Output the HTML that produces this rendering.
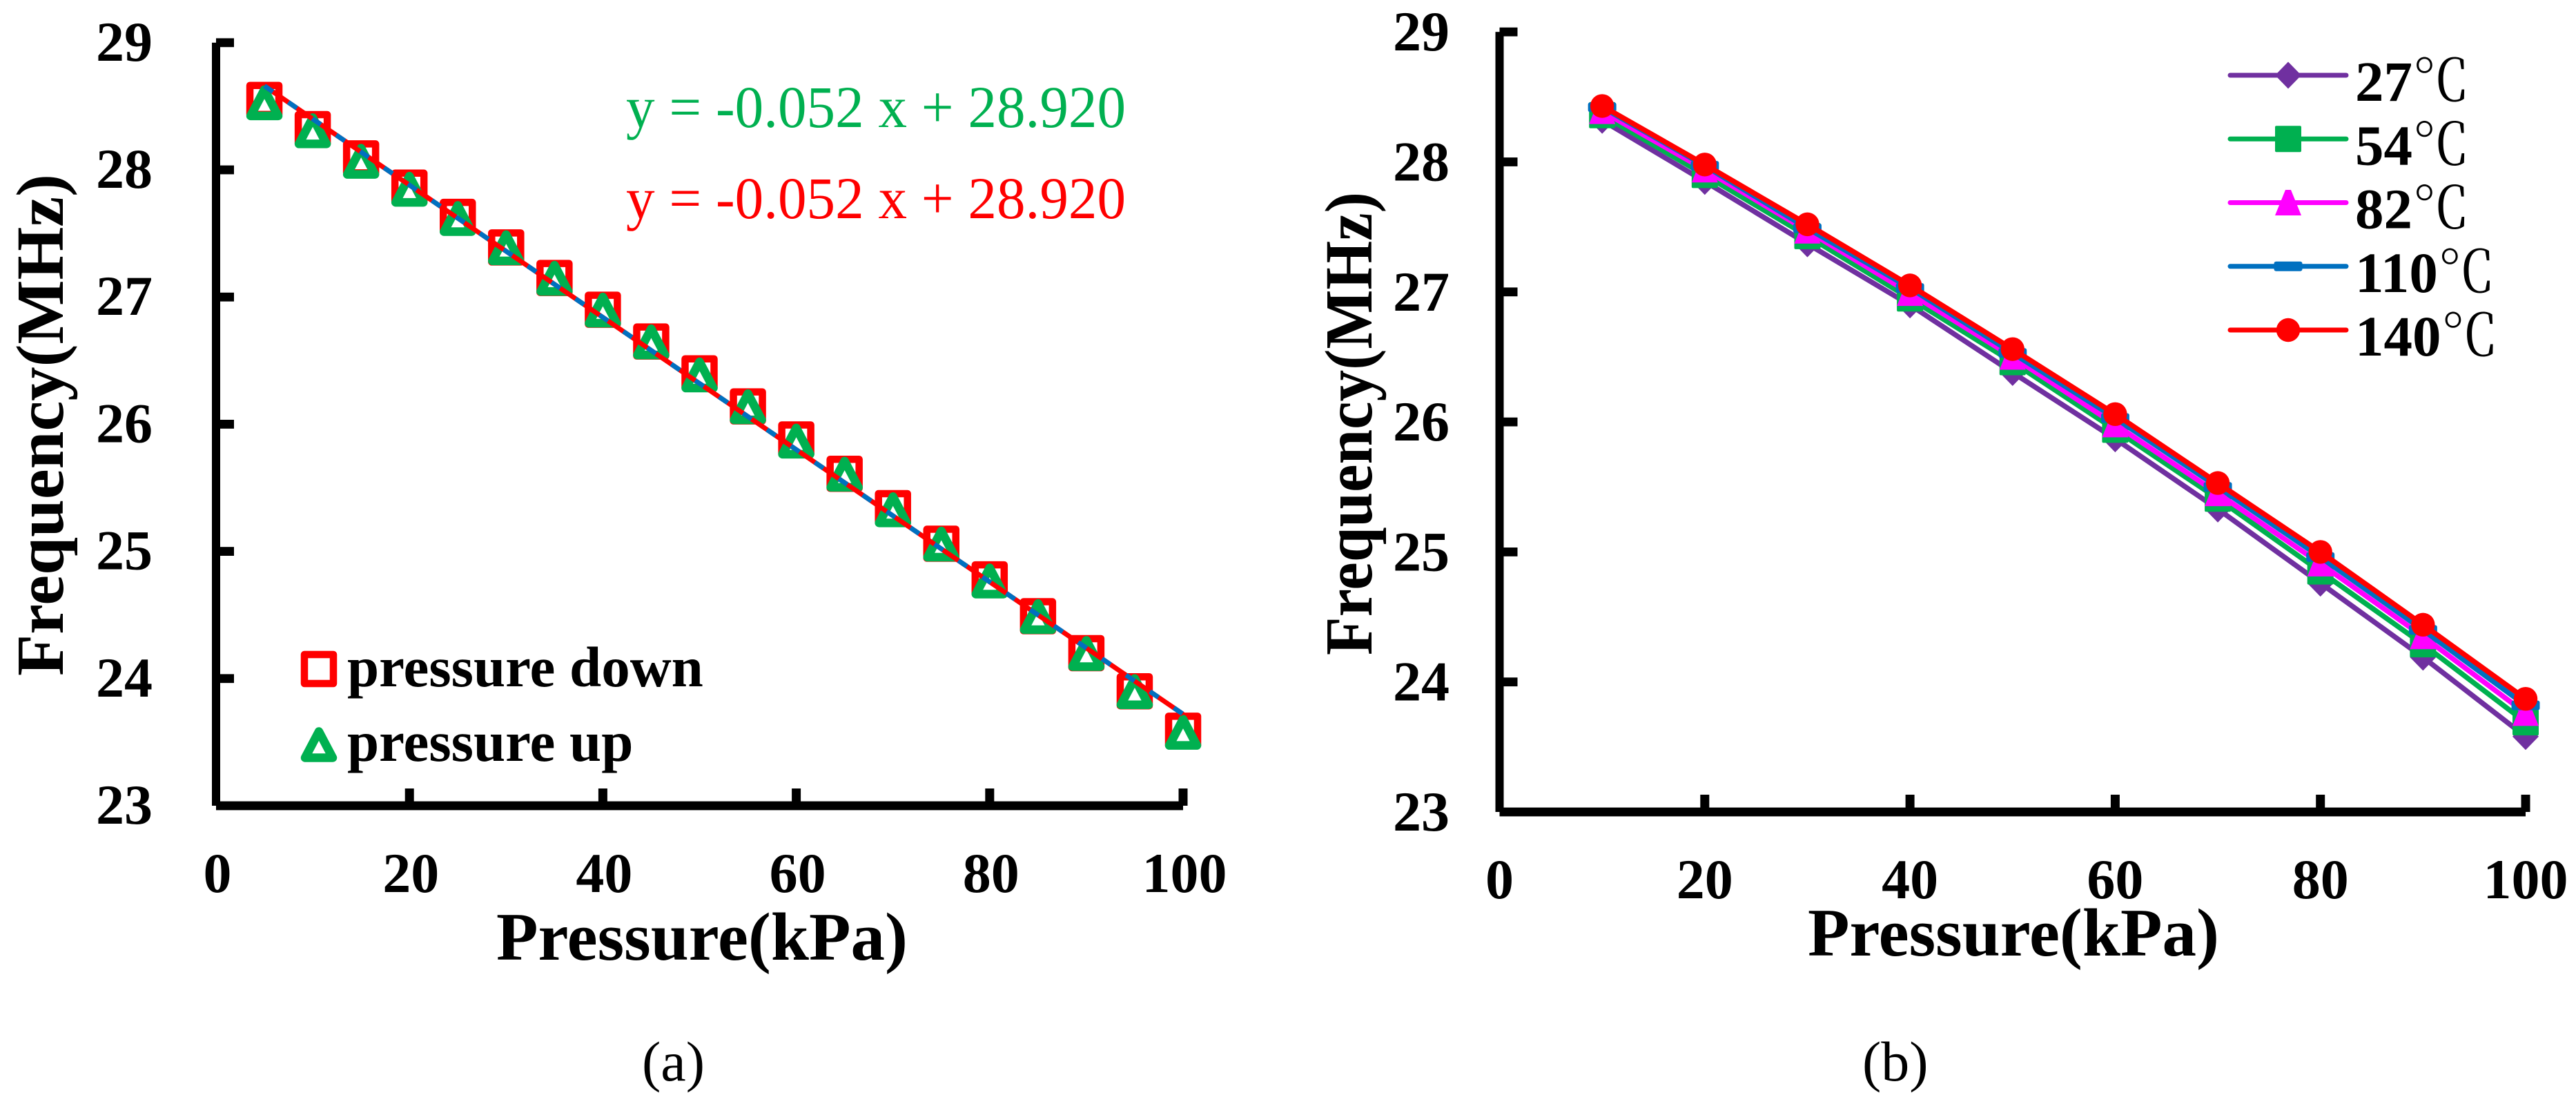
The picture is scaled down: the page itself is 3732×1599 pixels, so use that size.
<!DOCTYPE html>
<html lang="en">
<head>
<meta charset="utf-8">
<title>Frequency vs pressure</title>
<style>
html,body{margin:0;padding:0;background:#fff;}
svg{display:block;}
text{font-family:"Liberation Serif","Noto Serif CJK SC",serif;}
.bold{font-weight:bold;}
.deg{font-family:"Noto Serif CJK SC","Liberation Serif",serif;font-weight:400;}
</style>
</head>
<body>
<svg id="figure" xmlns="http://www.w3.org/2000/svg" width="3732" height="1599" viewBox="0 0 3732 1599">
  <rect width="3732" height="1599" fill="#fff"/>
  <g id="panel-a"></g>
  <g id="panel-b"></g>

  <text class="bold" font-size="98" text-anchor="middle" transform="translate(91,615.5) rotate(-90)" textLength="727" lengthAdjust="spacingAndGlyphs">Frequency(MHz)</text>
  <text class="bold" font-size="99" x="719" y="1390" textLength="596" lengthAdjust="spacingAndGlyphs">Pressure(kPa)</text>
  <text font-size="86" x="907" y="184" fill="#00B050" textLength="724" lengthAdjust="spacingAndGlyphs">y = -0.052 x + 28.920</text>
  <text font-size="86" x="907" y="316" fill="#FF0000" textLength="724" lengthAdjust="spacingAndGlyphs">y = -0.052 x + 28.920</text>
  <text class="bold" font-size="83" x="503" y="994">pressure down</text>
  <text class="bold" font-size="83" x="503" y="1102">pressure up</text>
  <text font-size="82" x="930" y="1565">(a)</text>

  <text class="bold" font-size="98" text-anchor="middle" transform="translate(1987,613.5) rotate(-90)" textLength="671" lengthAdjust="spacingAndGlyphs">Frequency(MHz)</text>
  <text class="bold" font-size="99" x="2619" y="1384" textLength="596" lengthAdjust="spacingAndGlyphs">Pressure(kPa)</text>
  <text font-size="82" x="2698" y="1565">(b)</text>
</svg>
<script>
// Shared tick labels
const yTickValues = [23, 24, 25, 26, 27, 28, 29];
const xTickValues = [0, 20, 40, 60, 80, 100];

// Panel (a) data
const panelAPressure = [5, 10, 15, 20, 25, 30, 35, 40, 45, 50, 55, 60, 65, 70, 75, 80, 85, 90, 95, 100];
const pressureDown = [28.55, 28.32, 28.09, 27.86, 27.63, 27.39, 27.15, 26.90, 26.65, 26.40, 26.14, 25.88, 25.61, 25.34, 25.06, 24.78, 24.49, 24.20, 23.90, 23.59];
const pressureUp = [28.53, 28.31, 28.07, 27.85, 27.62, 27.39, 27.15, 26.90, 26.65, 26.39, 26.14, 25.87, 25.61, 25.33, 25.06, 24.77, 24.49, 24.20, 23.90, 23.58];
const fitPressure = [5, 100];
const fitFrequency = [28.66, 23.72];

// Panel (b) data
const panelBPressure = [10, 20, 30, 40, 50, 60, 70, 80, 90, 100];
const temp27 = [28.32, 27.85, 27.37, 26.90, 26.38, 25.87, 25.33, 24.76, 24.19, 23.58];
const temp54 = [28.36, 27.90, 27.43, 26.95, 26.46, 25.94, 25.41, 24.85, 24.29, 23.69];
const temp82 = [28.39, 27.94, 27.47, 26.99, 26.50, 25.98, 25.45, 24.91, 24.35, 23.76];
const temp110 = [28.42, 27.97, 27.49, 27.03, 26.53, 26.03, 25.50, 24.96, 24.40, 23.82];
const temp140 = [28.43, 27.98, 27.52, 27.05, 26.56, 26.06, 25.53, 25.00, 24.44, 23.87];
const tempLabels = ['27', '54', '82', '110', '140'];

const SVGNS = 'http://www.w3.org/2000/svg';
function make(tag, parent, attrs) {
  const el = document.createElementNS(SVGNS, tag);
  for (const k in attrs) el.setAttribute(k, attrs[k]);
  parent.appendChild(el);
  return el;
}

const xA = v => 313 + v * 14.01;
const yA = v => 1167 - (v - 23) * 184.2;
const xB = v => 2172.5 + v * 14.865;
const yB = v => 1176 - (v - 23) * 188.3;

function drawAxes(root, xf, yf, prefix, yLabelX, yLabelDy, xLabelDx, xLabelY) {
  const t = 6.4;
  const x0 = xf(0), y0 = yf(23);
  const yAxis = make('rect', root, {x: x0 - 6, y: yf(29), width: 12, height: y0 - yf(29), fill: '#000'});
  
  
  const xAxis = make('rect', root, {x: x0, y: y0 - t, width: xf(100) - x0, height: 2 * t, fill: '#000'});
  
  
  yTickValues.forEach(v => {
    if (v !== 23) {
      const tick = make('rect', root, {x: x0, y: yf(v) - t, width: 26, height: 2 * t, fill: '#000'});
      
      
    }
    const label = make('text', root, {x: yLabelX, y: yf(v) + yLabelDy, 'text-anchor': 'end', 'font-size': 82, class: 'bold'});
    
    
    label.textContent = v;
  });
  xTickValues.forEach(v => {
    if (v !== 0) {
      const tick = make('rect', root, {x: xf(v) - 6.5, y: y0 - 25, width: 13, height: 25, fill: '#000'});
      
      
    }
    const label = make('text', root, {x: xf(v) + xLabelDx, y: xLabelY, 'text-anchor': 'middle', 'font-size': 82, class: 'bold'});
    
    
    label.textContent = v;
  });
}

function squareOutline(parent, cx, cy) {
  return make('rect', parent, {x: cx - 21, y: cy - 21, width: 42, height: 42, fill: 'none', stroke: '#FF0000', 'stroke-width': 10.5, 'stroke-linejoin': 'round'});
}
function triangleOutline(parent, cx, cy) {
  const pts = [[cx, cy - 18.5], [cx + 20, cy + 19.5], [cx - 20, cy + 19.5]].map(p => p.join(',')).join(' ');
  return make('polygon', parent, {points: pts, fill: 'none', stroke: '#00B050', 'stroke-width': 12.5, 'stroke-linejoin': 'round'});
}

// Panel (a)
const panelA = document.getElementById('panel-a');
drawAxes(panelA, xA, yA, 'panel-a', 221, 26, 2, 1292);
panelAPressure.forEach((p, i) => {
  const m = squareOutline(panelA, xA(p), yA(pressureDown[i]));
  
  
});
panelAPressure.forEach((p, i) => {
  const m = triangleOutline(panelA, xA(p), yA(pressureUp[i]));
  
  
});
const fitPoints = fitPressure.map((p, i) => xA(p) + ',' + yA(fitFrequency[i])).join(' ');
const fitRed = make('polyline', panelA, {points: fitPoints, fill: 'none', stroke: '#FF0000', 'stroke-width': 7});


const fitBlue = make('polyline', panelA, {points: fitPoints, fill: 'none', stroke: '#0070C0', 'stroke-width': 7, 'stroke-dasharray': '15 27'});


const legendSquare = squareOutline(panelA, 462, 969);


const legendTriangle = triangleOutline(panelA, 462, 1078);



// Panel (b)
const panelB = document.getElementById('panel-b');
drawAxes(panelB, xB, yB, 'panel-b', 2100, 27, 0, 1301);

function markerShape(parent, kind, cx, cy, color) {
  if (kind === 'diamond') {
    return make('polygon', parent, {points: [[cx, cy - 19.5], [cx + 19, cy], [cx, cy + 19.5], [cx - 19, cy]].map(p => p.join(',')).join(' '), fill: color});
  }
  if (kind === 'square') {
    return make('rect', parent, {x: cx - 19, y: cy - 19, width: 38, height: 38, rx: 2, fill: color});
  }
  if (kind === 'triangle') {
    return make('polygon', parent, {points: [[cx - 4, cy - 18.5], [cx + 4, cy - 18.5], [cx + 19, cy + 18.5], [cx - 19, cy + 18.5]].map(p => p.join(',')).join(' '), fill: color});
  }
  if (kind === 'bar') {
    return make('rect', parent, {x: cx - 20.5, y: cy - 7, width: 41, height: 14, rx: 3, fill: color});
  }
  return make('circle', parent, {cx: cx, cy: cy, r: 17.2, fill: color});
}

const seriesValues = [temp27, temp54, temp82, temp110, temp140];
const seriesColors = ['#7030A0', '#00B050', '#FF00FF', '#0070C0', '#FF0000'];
const seriesMarkers = ['diamond', 'square', 'triangle', 'bar', 'circle'];

seriesValues.forEach((vals, s) => {
  const line = make('polyline', panelB, {points: panelBPressure.map((p, i) => xB(p) + ',' + yB(vals[i])).join(' '), fill: 'none', stroke: seriesColors[s], 'stroke-width': 7.5, 'stroke-linejoin': 'round'});
  
  
  panelBPressure.forEach((p, i) => {
    const m = markerShape(panelB, seriesMarkers[s], xB(p), yB(vals[i]), seriesColors[s]);
    
    
  });
});

// Panel (b) legend
tempLabels.forEach((lab, s) => {
  const rowY = 109 + s * 92.25;
  const line = make('line', panelB, {x1: 3231, x2: 3399, y1: rowY, y2: rowY, stroke: seriesColors[s], 'stroke-width': 7, 'stroke-linecap': 'round'});
  
  
  const mk = markerShape(panelB, seriesMarkers[s], 3315, rowY, seriesColors[s]);
  
  
  const txt = make('text', panelB, {x: 3412, y: rowY + 37, 'font-size': 83, class: 'bold'});
  
  
  txt.textContent = lab;
  const deg = make('tspan', txt, {class: 'deg'});
  deg.textContent = '℃';
});
</script>
</body>
</html>
